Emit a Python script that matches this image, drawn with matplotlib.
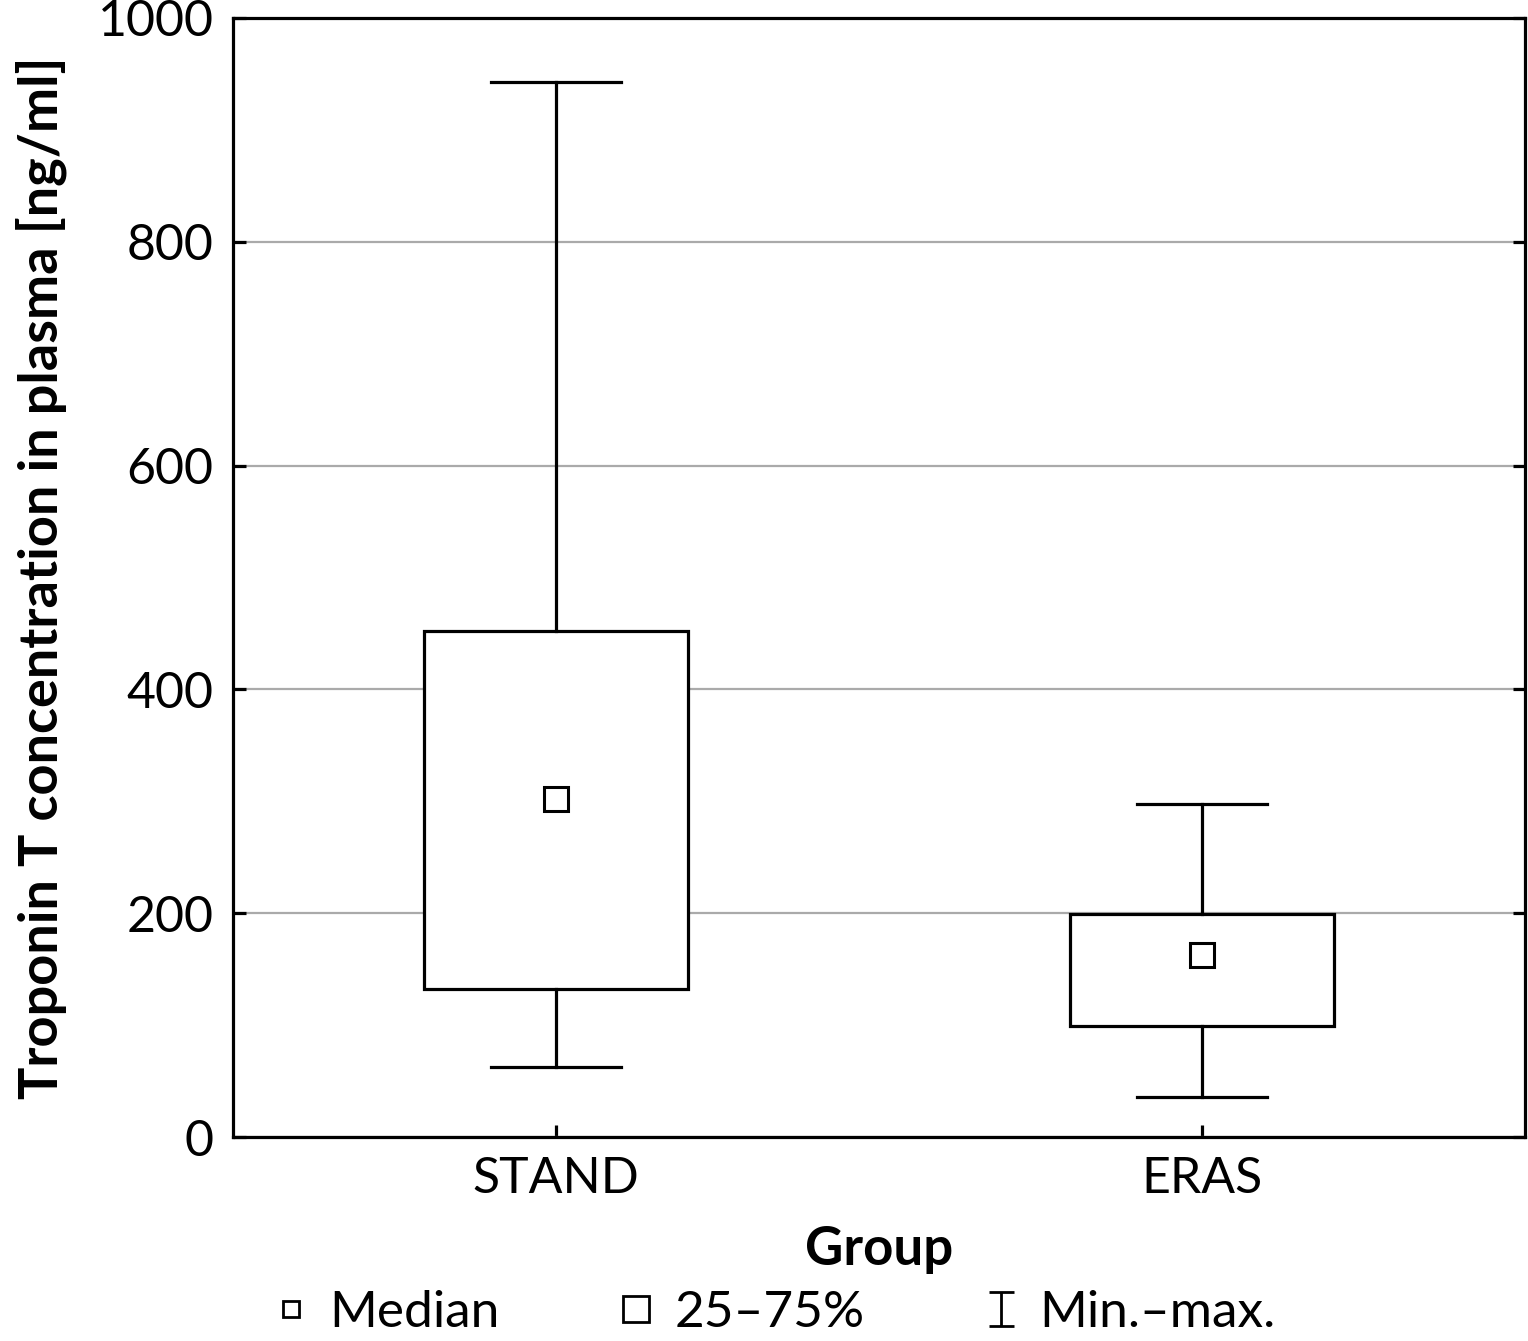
import matplotlib
matplotlib.use("Agg")
from matplotlib import pyplot as plt
from matplotlib.lines import Line2D
from matplotlib.path import Path

plt.rcParams['font.family'] = ['Lato', 'DejaVu Sans']

groups = ["STAND", "ERAS"]
medians = [302, 163]
q1 = [132, 99]
q3 = [452, 199]
mins = [63, 36]
maxs = [943, 298]

yticks = [0, 200, 400, 600, 800, 1000]

fig = plt.figure(figsize=(15.28, 13.41), dpi=100)
ax = fig.add_axes([0.1525, 0.1521, 0.8455, 0.8345])

stats = []
for g, m, lo, hi, mn, mx in zip(groups, medians, q1, q3, mins, maxs):
    stats.append({"label": g, "med": m, "q1": lo, "q3": hi, "whislo": mn, "whishi": mx})

lw = 2.3
ax.bxp(stats, positions=[1, 2], widths=0.41, capwidths=0.2, patch_artist=True,
       showfliers=False,
       boxprops=dict(facecolor="white", edgecolor="black", linewidth=lw),
       whiskerprops=dict(color="black", linewidth=lw),
       capprops=dict(color="black", linewidth=lw),
       medianprops=dict(linestyle="none"),
       zorder=3)
ax.plot([1, 2], medians, linestyle="none", marker="s", markersize=17,
        markerfacecolor="white", markeredgecolor="black", markeredgewidth=2.2, zorder=4)

ax.set_xlim(0.5, 2.5)
ax.set_ylim(0, 1000)
ax.set_yticks(yticks)
ax.set_xticks([1, 2])
ax.set_xticklabels(groups)
ax.yaxis.grid(True, color="#aaaaaa", linewidth=1.6)
ax.set_axisbelow(True)
ax.tick_params(axis="both", direction="in", length=9, width=lw, labelsize=36,
               right=True, top=False, pad=14)
for s in ax.spines.values():
    s.set_linewidth(lw)

ax.set_xlabel("Group", fontsize=38, fontweight="bold", labelpad=16)
ax.set_ylabel("Troponin T concentration in plasma [ng/ml]", fontsize=39,
              fontweight="bold", labelpad=22)

# I-beam marker for the min-max legend entry
ibeam = Path([(-0.75, 1), (0.75, 1), (0, 1), (0, -1), (-0.75, -1), (0.75, -1)],
             [Path.MOVETO, Path.LINETO, Path.MOVETO, Path.LINETO, Path.MOVETO, Path.LINETO])

h_med = Line2D([], [], linestyle="none", marker="s", markersize=11,
               markerfacecolor="white", markeredgecolor="black", markeredgewidth=2)
h_box = Line2D([], [], linestyle="none", marker="s", markersize=19,
               markerfacecolor="white", markeredgecolor="black", markeredgewidth=2)
h_rng = Line2D([], [], linestyle="none", marker=ibeam, markersize=24,
               markerfacecolor="none", markeredgecolor="black", markeredgewidth=2)

fig.legend([h_med, h_box, h_rng], ["Median", "25\u201375%", "Min.\u2013max."],
           loc="lower center", bbox_to_anchor=(0.505, -0.031), ncol=3, frameon=False,
           fontsize=37, handlelength=0.9, handletextpad=0.3, columnspacing=2.2)

fig.savefig("out.png", dpi=100)
